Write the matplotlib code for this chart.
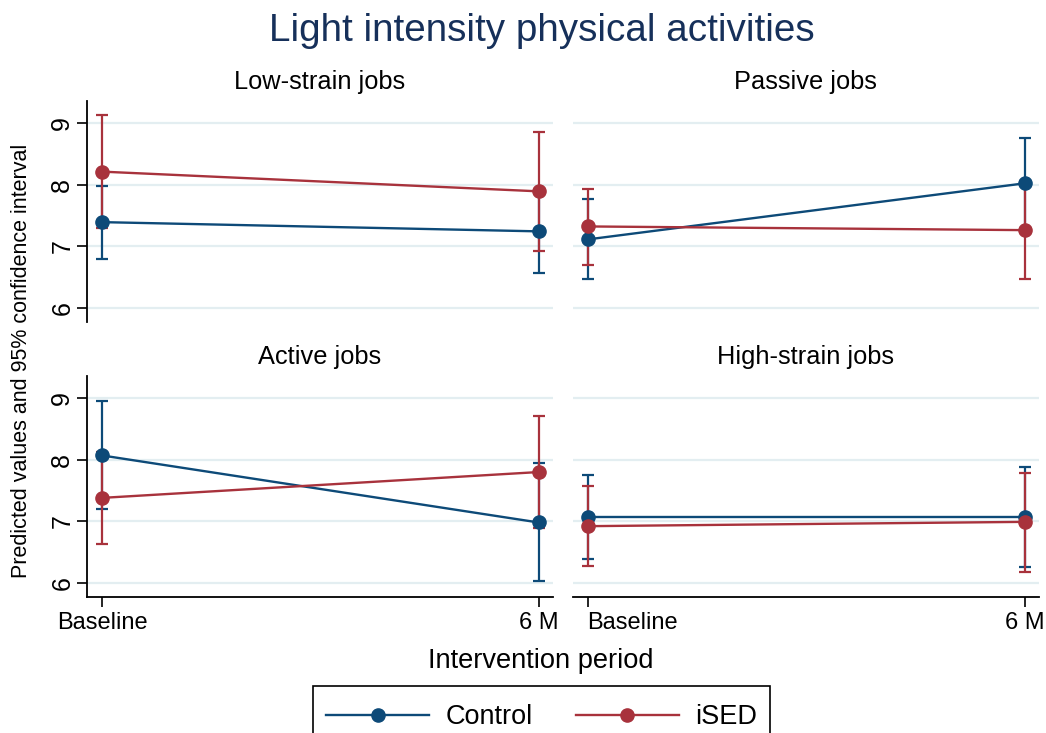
import numpy as np
import matplotlib.pyplot as plt
from matplotlib.lines import Line2D
from matplotlib.patches import Rectangle
from matplotlib.transforms import ScaledTranslation

plt.rcParams["font.family"] = ["Liberation Sans", "DejaVu Sans"]

# ── Données ──
panels = ["Low-strain jobs", "Passive jobs", "Active jobs", "High-strain jobs"]
periods = ["Baseline", "6 M"]

ctrl_mean = [[7.39, 7.24], [7.11, 8.02], [8.07, 6.98], [7.07, 7.07]]
ctrl_lo   = [[6.79, 6.57], [6.46, 7.27], [7.20, 6.03], [6.38, 6.26]]
ctrl_hi   = [[7.98, 7.90], [7.77, 8.76], [8.95, 7.95], [7.75, 7.88]]

ised_mean = [[8.21, 7.89], [7.32, 7.26], [7.38, 7.80], [6.92, 6.99]]
ised_lo   = [[7.30, 6.92], [6.69, 6.46], [6.63, 6.89], [6.28, 6.18]]
ised_hi   = [[9.13, 8.86], [7.92, 8.06], [8.13, 8.71], [7.57, 7.79]]

yticks = [6, 7, 8, 9]

BLUE = "#0d4a78"
RED = "#a8323c"
GRID = "#e3eef1"

W, H = 1046, 733
fig = plt.figure(figsize=(W / 100, H / 100), dpi=100)

# positions en pixels (gauche, haut, droite, bas)
boxes = [(86.8, 100.7, 553.0, 321.7), (572.7, 100.7, 1039.0, 321.7),
         (86.8, 376.0, 553.0, 596.7), (572.7, 376.0, 1039.0, 596.7)]

x = np.arange(len(periods))
for i, (l, t, r, b) in enumerate(boxes):
    ax = fig.add_axes([l / W, 1 - b / H, (r - l) / W, (b - t) / H])
    left_col = i % 2 == 0
    bottom_row = i >= 2

    for mean, lo, hi, col in [(ctrl_mean[i], ctrl_lo[i], ctrl_hi[i], BLUE),
                              (ised_mean[i], ised_lo[i], ised_hi[i], RED)]:
        m = np.array(mean)
        err = [m - np.array(lo), np.array(hi) - m]
        ax.errorbar(x, m, yerr=err, color=col, lw=1.7, marker="o", ms=9.5,
                    capsize=4.5, capthick=1.6, elinewidth=1.6, zorder=3)

    ax.set_xlim(-0.035, 1.033)
    ax.set_ylim(5.773, 9.362)
    ax.set_yticks(yticks)
    ax.grid(axis="y", color=GRID, lw=1.6, zorder=0)
    ax.set_axisbelow(True)

    for s in ["top", "right"]:
        ax.spines[s].set_visible(False)
    ax.spines["left"].set_visible(left_col)
    ax.spines["bottom"].set_visible(bottom_row)
    for s in ["left", "bottom"]:
        ax.spines[s].set_linewidth(1.3)

    if left_col:
        ax.tick_params(axis="y", length=7, width=1.2, labelsize=18,
                       labelrotation=90, pad=2)
        for lab in ax.get_yticklabels():
            lab.set_va("center")
    else:
        ax.tick_params(axis="y", left=False, labelleft=False)

    if bottom_row:
        ax.set_xticks(x)
        ax.set_xticklabels(periods)
        ax.tick_params(axis="x", length=7, width=1.2, labelsize=17, pad=4)
        if not left_col:
            # Baseline du panneau droit décalé pour ne pas chevaucher "6 M"
            lab = ax.get_xticklabels()[0]
            lab.set_ha("left")
            lab.set_transform(lab.get_transform() +
                              ScaledTranslation(-0.01, 0, fig.dpi_scale_trans))
    else:
        ax.set_xticks([])

    ax.text(0.5, 1 + 18.7 / (b - t), panels[i], transform=ax.transAxes,
            ha="center", va="center", fontsize=18.3)

fig.text(542 / W, 1 - 31 / H, "Light intensity physical activities",
         ha="center", va="center", fontsize=27.8, color="#16305a")
fig.text(541 / W, 1 - 661 / H, "Intervention period",
         ha="center", va="center", fontsize=19.6)
fig.text(22 / W, 1 - 361 / H, "Predicted values and 95% confidence interval",
         ha="center", va="center", rotation=90, fontsize=15.5)

# ── Légende (cadre dessiné à part, coupé par le bord bas) ──
handles = [Line2D([], [], color=BLUE, lw=1.7, marker="o", ms=9.5),
           Line2D([], [], color=RED, lw=1.7, marker="o", ms=9.5)]
fig.legend(handles, ["Control", "iSED"], loc="upper center",
           bbox_to_anchor=(541.5 / W, 1 - 692 / H), ncol=2,
           fontsize=19.5, frameon=False,
           handlelength=3.8, columnspacing=1.6, handletextpad=0.6,
           borderpad=0.45, borderaxespad=0)
fig.patches.append(Rectangle((313 / W, -0.05), (770 - 313) / W,
                             0.05 + 1 - 686 / H, transform=fig.transFigure,
                             fill=False, edgecolor="black", lw=1.2))

fig.savefig("out.png", dpi=100)
